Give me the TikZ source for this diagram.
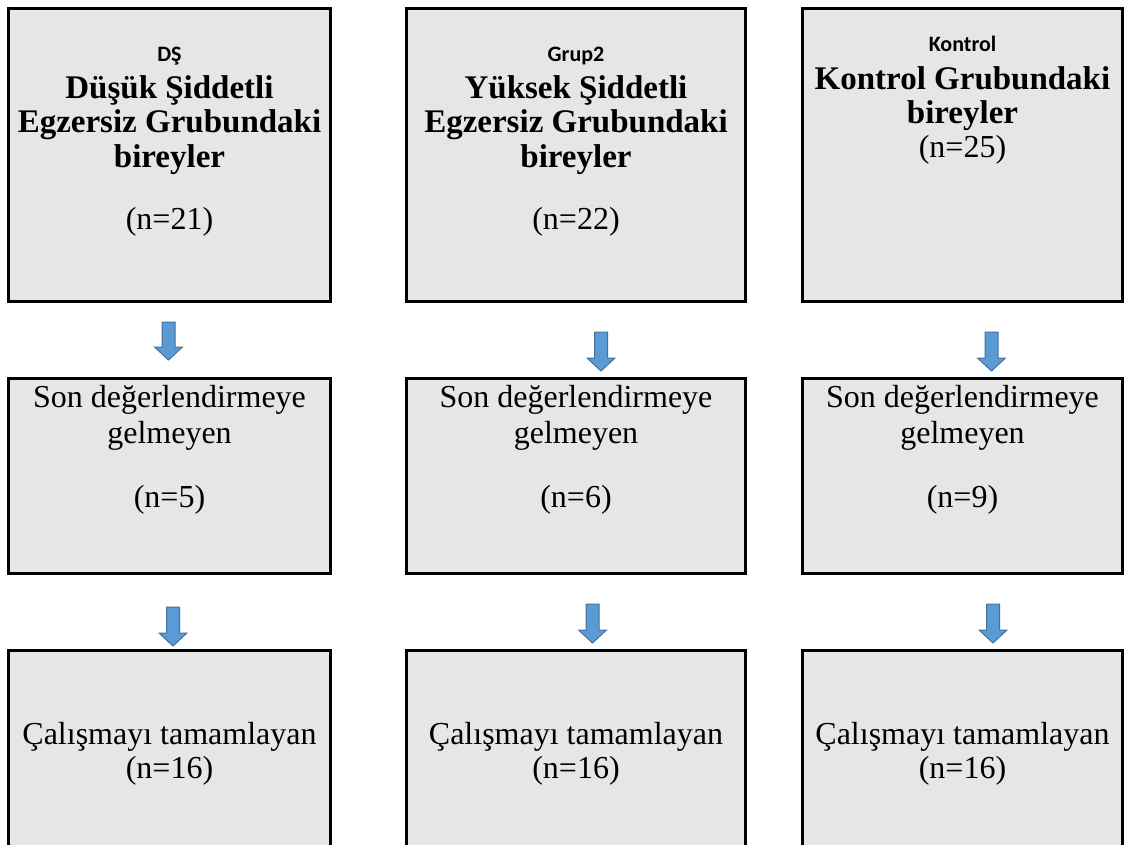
\documentclass[tikz,border=0pt]{standalone}
\usepackage{fontspec}
\setmainfont{Liberation Serif}
\newfontfamily\carlito{Carlito}
\definecolor{boxgray}{HTML}{E6E6E6}
\definecolor{arrowblue}{HTML}{5B9BD5}
\definecolor{arrowedge}{HTML}{41719C}
\newcommand\blockdown[4]{% name, x, ytop, ytip
  \draw[blockarrow] (#2-6.5,#3) coordinate (#1) -- (#2+6.5,#3) -- (#2+6.5,#4-13) -- (#2+14,#4-13) -- (#2,#4) -- (#2-14,#4-13) -- (#2-6.5,#4-13) -- cycle;}
\begin{document}
\begin{tikzpicture}[x=1pt,y=-1pt,
  box/.style={draw=black,line width=3pt,fill=boxgray,inner sep=0pt,outer sep=0pt,anchor=north west},
  lbl/.style={inner sep=0pt,anchor=base,font=\carlito\bfseries\fontsize{22}{26}\selectfont},
  hd/.style={inner sep=0pt,anchor=base,font=\bfseries\fontsize{33}{38}\selectfont},
  tx/.style={inner sep=0pt,anchor=base,font=\fontsize{32}{36}\selectfont},
  blockarrow/.style={fill=arrowblue,draw=arrowedge,line width=1pt,line join=miter}]
\useasboundingbox (0,0) rectangle (1125,845);
\clip (0,0) rectangle (1125,845);

% top row
\node[box,minimum width=322pt,minimum height=293pt] (A1) at (8.5,8.5) {};
\node[box,minimum width=339pt,minimum height=293pt] (B1) at (406.5,8.5) {};
\node[box,minimum width=320pt,minimum height=293pt] (C1) at (802.5,8.5) {};
% middle row
\node[box,minimum width=322pt,minimum height=195pt] (A2) at (8.5,378.5) {};
\node[box,minimum width=339pt,minimum height=195pt] (B2) at (406.5,378.5) {};
\node[box,minimum width=320pt,minimum height=195pt] (C2) at (802.5,378.5) {};
% bottom row
\node[box,minimum width=322pt,minimum height=260pt] (A3) at (8.5,650.5) {};
\node[box,minimum width=339pt,minimum height=260pt] (B3) at (406.5,650.5) {};
\node[box,minimum width=320pt,minimum height=260pt] (C3) at (802.5,650.5) {};

% texts column A
\node[lbl] (a1l) at (169.5,62) {DŞ};
\node[hd] (a1h1) at (169.5,99) {Düşük Şiddetli};
\node[hd] (a1h2) at (169.5,133) {Egzersiz Grubundaki};
\node[hd] (a1h3) at (169.5,168) {bireyler};
\node[tx] (a1n) at (169.5,230) {(n=21)};
% column B
\node[lbl] (b1l) at (576,62) {Grup2};
\node[hd] (b1h1) at (576,99) {Yüksek Şiddetli};
\node[hd] (b1h2) at (576,133) {Egzersiz Grubundaki};
\node[hd] (b1h3) at (576,168) {bireyler};
\node[tx] (b1n) at (576,230) {(n=22)};
% column C
\node[lbl] (c1l) at (962.5,52) {Kontrol};
\node[hd] (c1h1) at (962.5,90) {Kontrol Grubundaki};
\node[hd] (c1h2) at (962.5,124) {bireyler};
\node[tx] (c1n) at (962.5,158) {(n=25)};

% middle texts
\node[tx] (a2t1) at (169.5,407) {Son değerlendirmeye};
\node[tx] (a2t2) at (169.5,443) {gelmeyen};
\node[tx] (a2n) at (169.5,507) {(n=5)};
\node[tx] (b2t1) at (576,407) {Son değerlendirmeye};
\node[tx] (b2t2) at (576,443) {gelmeyen};
\node[tx] (b2n) at (576,507) {(n=6)};
\node[tx] (c2t1) at (962.5,407) {Son değerlendirmeye};
\node[tx] (c2t2) at (962.5,443) {gelmeyen};
\node[tx] (c2n) at (962.5,507) {(n=9)};

% bottom texts
\node[tx] (a3t) at (169.5,744) {Çalışmayı tamamlayan};
\node[tx] (a3n) at (169.5,778) {(n=16)};
\node[tx] (b3t) at (576,744) {Çalışmayı tamamlayan};
\node[tx] (b3n) at (576,778) {(n=16)};
\node[tx] (c3t) at (962.5,744) {Çalışmayı tamamlayan};
\node[tx] (c3n) at (962.5,778) {(n=16)};

% block arrows
\blockdown{ar1}{168.5}{322}{360}
\blockdown{ar2}{601}{332}{371}
\blockdown{ar3}{991.5}{332}{371}
\blockdown{ar4}{173}{607}{646}
\blockdown{ar5}{592.5}{604}{643}
\blockdown{ar6}{993}{604}{643}
\end{tikzpicture}
\end{document}
